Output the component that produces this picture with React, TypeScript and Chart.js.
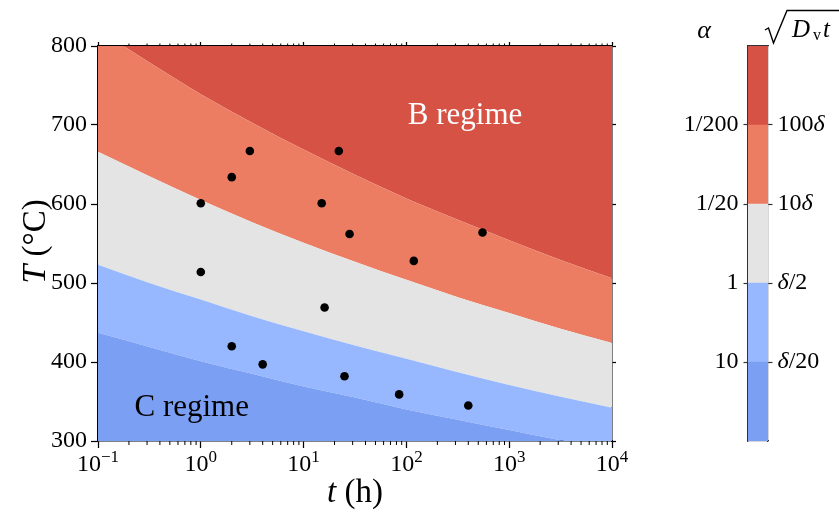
import React, { useEffect, useRef } from 'react';
import { Chart, registerables } from 'chart.js';

Chart.register(...registerables);

// ---------------- data ----------------
const tGrid = [0.1, 0.316, 1, 3.16, 10, 31.6, 100, 316, 1000, 3162, 10000];
const xTickValues = [0.1, 1, 10, 100, 1000, 10000];
const xTickExponents = ['\u22121', '0', '1', '2', '3', '4'];
const yTickValues = [300, 400, 500, 600, 700, 800];

// boundaries between regions (T in °C at each tGrid value)
const boundaryDelta20 = [437, 419, 401, 385, 369, 355, 340, 327, 314, 301, 289];
const boundaryDelta2 = [523, 500, 479, 458, 439, 421, 404, 387, 371, 356, 342];
const boundary10Delta = [666, 635, 605, 577, 551, 527, 504, 482, 462, 442, 424];
const boundary100Delta = [821, 779, 739, 703, 669, 637, 607, 580, 554, 529, 506];

// experimental points
const sampleTimes = [3, 22, 2, 1, 15, 28, 550, 118, 1, 16, 2, 4, 25, 85, 400];
const sampleTemps = [667, 667, 634, 601, 601, 562, 564, 528, 514, 469, 420, 397, 382, 359, 345];

// annotations
const regimeNames = ['B regime', 'C regime'];
const regimeTimes = [372, 0.816];
const regimeTemps = [701, 332];
const regimeColors = ['#ffffff', '#000000'];

// colours, bottom to top
const bandColors = ['#7b9ff3', '#97b8fe', '#e4e4e4', '#ec7d63', '#d65245'];

// colorbar
const colorbarLevels = [1, 1, 1, 1, 1];
const colorbarTicks = [1, 2, 3, 4];
const alphaTickLabels = ['10', '1', '1/20', '1/200'];
const lengthTickLabels = ['\u03b4/20', '\u03b4/2', '10\u03b4', '100\u03b4'];

const SERIF = '"Liberation Serif", "Times New Roman", serif';

type Run = { text: string; font: string; dy?: number };

function drawRuns(ctx: CanvasRenderingContext2D, runs: Run[], x: number, y: number, align: 'left' | 'center') {
  let total = 0;
  const widths = runs.map((r) => {
    ctx.font = r.font;
    const w = ctx.measureText(r.text).width;
    total += w;
    return w;
  });
  let cx = align === 'center' ? x - total / 2 : x;
  ctx.textAlign = 'left';
  runs.forEach((r, i) => {
    ctx.font = r.font;
    ctx.fillText(r.text, cx, y + (r.dy || 0));
    cx += widths[i];
  });
}

const mainPlugin = {
  id: 'mainDecor',
  afterDraw(chart: any) {
    const { ctx, chartArea: ca, scales } = chart;
    const xs = scales.x;
    const ys = scales.y;
    ctx.save();
    // minor ticks
    ctx.strokeStyle = '#000';
    ctx.lineWidth = 1;
    for (let d = 0; d < xTickValues.length - 1; d++) {
      for (let k = 2; k <= 9; k++) {
        const px = xs.getPixelForValue(xTickValues[d] * k);
        ctx.beginPath();
        ctx.moveTo(px, ca.bottom);
        ctx.lineTo(px, ca.bottom + 4);
        ctx.moveTo(px, ca.top);
        ctx.lineTo(px, ca.top - 2.5);
        ctx.stroke();
      }
    }
    // x tick labels with superscripts
    ctx.fillStyle = '#000';
    ctx.textBaseline = 'alphabetic';
    xTickValues.forEach((v, i) => {
      const px = xs.getPixelForValue(v);
      drawRuns(
        ctx,
        [
          { text: '10', font: `24px ${SERIF}` },
          { text: xTickExponents[i], font: `17px ${SERIF}`, dy: -9 },
        ],
        px,
        471,
        'center'
      );
    });
    // axis titles
    drawRuns(
      ctx,
      [
        { text: 't', font: `italic 33px ${SERIF}` },
        { text: ' (h)', font: `33px ${SERIF}` },
      ],
      (ca.left + ca.right) / 2,
      502,
      'center'
    );
    ctx.save();
    ctx.translate(45, (ca.top + ca.bottom) / 2 - 2);
    ctx.rotate(-Math.PI / 2);
    drawRuns(
      ctx,
      [
        { text: 'T', font: `italic 34px ${SERIF}` },
        { text: ' (', font: `33px ${SERIF}` },
        { text: '\u00b0', font: `33px ${SERIF}` },
        { text: 'C)', font: `33px ${SERIF}` },
      ],
      0,
      0,
      'center'
    );
    ctx.restore();
    // regime labels
    regimeNames.forEach((name, i) => {
      ctx.fillStyle = regimeColors[i];
      ctx.font = `31px ${SERIF}`;
      ctx.textAlign = 'center';
      ctx.textBaseline = 'alphabetic';
      ctx.fillText(name, xs.getPixelForValue(regimeTimes[i]), ys.getPixelForValue(regimeTemps[i]));
    });
    ctx.restore();
  },
};

const cbPlugin = {
  id: 'cbDecor',
  afterDraw(chart: any) {
    const { ctx, chartArea: ca, scales } = chart;
    const ys = scales.y;
    ctx.save();
    ctx.fillStyle = '#000';
    ctx.textBaseline = 'middle';
    lengthTickLabels.forEach((lab, i) => {
      const y = ys.getPixelForValue(colorbarTicks[i]);
      const parts = lab.split(/(\u03b4)/).filter((p) => p.length);
      drawRuns(
        ctx,
        parts.map((p) => ({ text: p, font: p === '\u03b4' ? `italic 24px ${SERIF}` : `24px ${SERIF}` })),
        ca.right + 4.5 + 5,
        y,
        'left'
      );
    });
    // titles
    ctx.textBaseline = 'alphabetic';
    ctx.font = `italic 26px ${SERIF}`;
    ctx.textAlign = 'center';
    ctx.fillText('\u03b1', 44, 38);
    // sqrt sign
    ctx.strokeStyle = '#000';
    ctx.lineWidth = 1.4;
    ctx.beginPath();
    ctx.moveTo(105, 30);
    ctx.lineTo(108.5, 28);
    ctx.lineTo(113.5, 43);
    ctx.lineTo(127, 10.5);
    ctx.lineTo(179, 10.5);
    ctx.stroke();
    ctx.textAlign = 'left';
    ctx.font = `italic 25px ${SERIF}`;
    ctx.fillText('D', 132, 37);
    ctx.font = `16px ${SERIF}`;
    ctx.fillText('v', 153, 40);
    ctx.font = `italic 25px ${SERIF}`;
    ctx.fillText('t', 163, 37);
    ctx.restore();
  },
};

export default function App() {
  const mainRef = useRef<HTMLCanvasElement>(null);
  const cbRef = useRef<HTMLCanvasElement>(null);

  useEffect(() => {
    const mk = (vals: number[], fill: any, color: string) => ({
      data: tGrid.map((t, i) => ({ x: t, y: vals[i] })),
      fill,
      backgroundColor: color,
      borderColor: 'transparent',
      borderWidth: 0,
      pointRadius: 0,
      cubicInterpolationMode: 'monotone',
    });
    const axisBorder = { display: true, color: '#000', width: 1.5 };
    const mainChart = new Chart(mainRef.current as HTMLCanvasElement, {
      type: 'line',
      data: {
        datasets: [
          {
            data: sampleTimes.map((t, i) => ({ x: t, y: sampleTemps[i] })),
            showLine: false,
            pointRadius: 4.3,
            pointBackgroundColor: '#000',
            pointBorderColor: '#000',
            pointBorderWidth: 0,
            fill: false,
          } as any,
          mk(boundaryDelta20, 'start', bandColors[0]),
          mk(boundaryDelta2, 1, bandColors[1]),
          mk(boundary10Delta, 2, bandColors[2]),
          mk(boundary100Delta, 3, bandColors[3]),
          mk(boundary100Delta, 'end', bandColors[4]),
        ],
      },
      options: {
        responsive: false,
        animation: false,
        events: [],
        layout: { padding: 0 },
        plugins: { legend: { display: false }, tooltip: { enabled: false } },
        scales: {
          x: {
            type: 'logarithmic',
            position: 'bottom',
            min: 0.1,
            max: 10000,
            afterBuildTicks: (s: any) => {
              s.ticks = xTickValues.map((v) => ({ value: v }));
            },
            ticks: { display: false },
            grid: { drawOnChartArea: false, drawTicks: true, tickLength: 7, tickColor: '#000', tickWidth: 1.25 },
            border: axisBorder,
            afterFit: (s: any) => {
              s.height = 71;
            },
          },
          x2: {
            type: 'logarithmic',
            position: 'top',
            min: 0.1,
            max: 10000,
            afterBuildTicks: (s: any) => {
              s.ticks = xTickValues.map((v) => ({ value: v }));
            },
            ticks: { display: false },
            grid: { drawOnChartArea: false, drawTicks: true, tickLength: 4, tickColor: '#000', tickWidth: 1.25 },
            border: axisBorder,
            afterFit: (s: any) => {
              s.height = 46;
            },
          },
          y: {
            type: 'linear',
            position: 'left',
            min: 300,
            max: 800,
            afterBuildTicks: (s: any) => {
              s.ticks = yTickValues.map((v) => ({ value: v }));
            },
            ticks: { font: { family: SERIF, size: 24 }, color: '#000', padding: 4, autoSkip: false },
            grid: { drawOnChartArea: false, drawTicks: true, tickLength: 7, tickColor: '#000', tickWidth: 1.25 },
            border: axisBorder,
            afterFit: (s: any) => {
              s.width = 98;
            },
          },
          y2: {
            type: 'linear',
            position: 'right',
            min: 300,
            max: 800,
            afterBuildTicks: (s: any) => {
              s.ticks = yTickValues.map((v) => ({ value: v }));
            },
            ticks: { display: false },
            grid: { drawOnChartArea: false, drawTicks: true, tickLength: 4, tickColor: '#000', tickWidth: 1.25 },
            border: axisBorder,
            afterFit: (s: any) => {
              s.width = 48;
            },
          },
        },
      } as any,
      plugins: [mainPlugin],
    });

    const cbBorder = { display: true, color: '#333', width: 1.2 };
    const cbChart = new Chart(cbRef.current as HTMLCanvasElement, {
      type: 'bar',
      data: {
        labels: ['band'],
        datasets: colorbarLevels.map((v, i) => ({
          data: [v],
          backgroundColor: bandColors[i],
          borderWidth: 0,
          barPercentage: 1,
          categoryPercentage: 1,
        })),
      },
      options: {
        responsive: false,
        animation: false,
        events: [],
        layout: { padding: 0 },
        plugins: { legend: { display: false }, tooltip: { enabled: false } },
        scales: {
          x: {
            stacked: true,
            position: 'bottom',
            ticks: { display: false },
            grid: { display: false },
            border: cbBorder,
            afterFit: (s: any) => {
              s.height = 71;
            },
          },
          x2: {
            type: 'category',
            position: 'top',
            labels: ['band'],
            ticks: { display: false },
            grid: { display: false },
            border: cbBorder,
            afterFit: (s: any) => {
              s.height = 46;
            },
          },
          y: {
            stacked: true,
            position: 'left',
            min: 0,
            max: 5,
            afterBuildTicks: (s: any) => {
              s.ticks = colorbarTicks.map((v) => ({ value: v }));
            },
            ticks: {
              callback: (_v: any, i: number) => alphaTickLabels[i],
              font: { family: SERIF, size: 24 },
              color: '#000',
              padding: 5,
              autoSkip: false,
            },
            grid: { drawOnChartArea: false, drawTicks: true, tickLength: 4.5, tickColor: '#333', tickWidth: 1.2 },
            border: cbBorder,
            afterFit: (s: any) => {
              s.width = 88;
            },
          },
          y2: {
            type: 'linear',
            position: 'right',
            min: 0,
            max: 5,
            afterBuildTicks: (s: any) => {
              s.ticks = colorbarTicks.map((v) => ({ value: v }));
            },
            ticks: { display: false },
            grid: { drawOnChartArea: false, drawTicks: true, tickLength: 4.5, tickColor: '#333', tickWidth: 1.2 },
            border: cbBorder,
            afterFit: (s: any) => {
              s.width = 71;
            },
          },
        },
      } as any,
      plugins: [cbPlugin],
    });

    return () => {
      mainChart.destroy();
      cbChart.destroy();
    };
  }, []);

  return (
    <div style={{ position: 'fixed', left: 0, top: 0, width: 839, height: 512, background: '#fff', overflow: 'hidden' }}>
      <canvas ref={mainRef} width={660} height={512} style={{ position: 'absolute', left: 0, top: 0 }} />
      <canvas ref={cbRef} width={179} height={512} style={{ position: 'absolute', left: 660, top: 0 }} />
    </div>
  );
}
